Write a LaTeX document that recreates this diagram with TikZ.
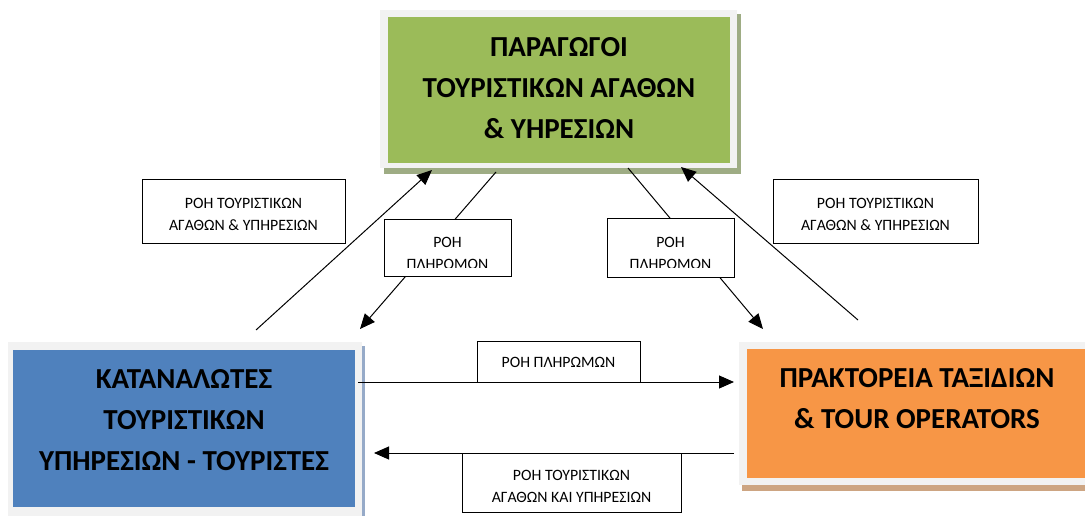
\documentclass[tikz,border=0pt]{standalone}
\usepackage{fontspec}
\setmainfont{Carlito}
\usetikzlibrary{arrows.meta}
\definecolor{grn}{RGB}{155,187,89}
\definecolor{grnsh}{RGB}{158,172,132}
\definecolor{blu}{RGB}{79,129,189}
\definecolor{blush}{RGB}{150,170,200}
\definecolor{org}{RGB}{247,150,70}
\definecolor{orgsh}{RGB}{205,165,130}
\definecolor{frm}{RGB}{242,242,242}
\tikzset{
  mainbox/.style={draw=none, inner sep=0pt, outer sep=0pt},
  maintext/.style={font=\fontsize{29}{41}\selectfont\bfseries, align=center, inner sep=0pt},
  lbl/.style={draw=black, line width=1pt, fill=white, inner sep=0pt, outer sep=0pt},
  lbltext/.style={font=\fontsize{15.8}{22}\selectfont, align=center, inner sep=0pt},
  flow/.style={line width=1pt, -{Triangle[length=15pt,width=13pt]}},
}
\begin{document}
\begin{tikzpicture}[x=1pt,y=-1pt]
\useasboundingbox (0,0) rectangle (1085,516);
\fill[white] (0,0) rectangle (1085,516);

% ---- top box (producers)
\fill[grnsh] (384,14) rectangle (741,174);
\fill[frm] (380,10) rectangle (737,168);
\node[mainbox, fill=grn, minimum width=342, minimum height=146] (prod) at (559,90) {};
\node[maintext] (prodt) at (559,88) {ΠΑΡΑΓΩΓΟΙ\\ΤΟΥΡΙΣΤΙΚΩΝ ΑΓΑΘΩΝ\\\& ΥΗΡΕΣΙΩΝ};

% ---- left box (consumers)
\fill[blush] (12,346) rectangle (365,520);
\fill[frm] (8,342) rectangle (362,520);
\node[mainbox, fill=blu, minimum width=342, minimum height=157] (cons) at (184,428.5) {};
\node[maintext] (const) at (184,420) {ΚΑΤΑΝΑΛΩΤΕΣ\\ΤΟΥΡΙΣΤΙΚΩΝ\\ΥΠΗΡΕΣΙΩΝ - ΤΟΥΡΙΣΤΕΣ};

% ---- right box (travel agencies)
\fill[orgsh] (742,346) rectangle (1090,491);
\fill[frm] (739,342) rectangle (1090,485);
\node[mainbox, fill=org, minimum width=343, minimum height=129] (agen) at (918.5,413.5) {};
\node[maintext] (agent) at (917,399) {ΠΡΑΚΤΟΡΕΙΑ ΤΑΞΙΔΙΩΝ\\\& TOUR OPERATORS};

% ---- connector end points
\coordinate (c1s) at (256,330);
\coordinate (c1e) at (432,170);
\coordinate (c2s) at (496,172);
\coordinate (c2e) at (360,329);
\coordinate (c3s) at (628,168);
\coordinate (c3e) at (763,329);
\coordinate (c4s) at (858,320);
\coordinate (c4e) at (681,167);
\coordinate (c5s) at (358,382);
\coordinate (c5e) at (734,382);
\coordinate (c6s) at (734,453);
\coordinate (c6e) at (374,453);

\draw[flow] (c1s) -- (c1e);
\draw[flow] (c2s) -- (c2e);
\draw[flow] (c3s) -- (c3e);
\draw[flow] (c4s) -- (c4e);
\draw[flow] (c5s) -- (c5e);
\draw[flow] (c6s) -- (c6e);

% ---- label boxes
\node[lbl, minimum width=203, minimum height=63] (l1) at (243.5,211.5) {};
\node[lbltext] (l1t) at (243.5,214) {ΡΟΗ ΤΟΥΡΙΣΤΙΚΩΝ\\ΑΓΑΘΩΝ \& ΥΠΗΡΕΣΙΩΝ};

\node[lbl, minimum width=205, minimum height=63] (l4) at (875.5,211.5) {};
\node[lbltext] (l4t) at (875.5,214) {ΡΟΗ ΤΟΥΡΙΣΤΙΚΩΝ\\ΑΓΑΘΩΝ \& ΥΠΗΡΕΣΙΩΝ};

\node[lbl, minimum width=127, minimum height=57] (l2) at (447.5,247.5) {};
\begin{scope}
\clip (386,221) rectangle (510,267);
\node[lbltext] (l2t) at (447.5,253) {ΡΟΗ\\ΠΛΗΡΟΜΟΝ};
\end{scope}

\node[lbl, minimum width=127, minimum height=59] (l3) at (670.5,247.5) {};
\begin{scope}
\clip (609,220) rectangle (733,267);
\node[lbltext] (l3t) at (670.5,253) {ΡΟΗ\\ΠΛΗΡΟΜΟΝ};
\end{scope}

\node[lbl, minimum width=163, minimum height=41] (l5) at (558.5,361.5) {};
\node[lbltext] (l5t) at (558.5,362) {ΡΟΗ ΠΛΗΡΩΜΩΝ};

\node[lbl, minimum width=219, minimum height=59] (l6) at (571.5,482.5) {};
\node[lbltext] (l6t) at (571.5,486) {ΡΟΗ ΤΟΥΡΙΣΤΙΚΩΝ\\ΑΓΑΘΩΝ ΚΑΙ ΥΠΗΡΕΣΙΩΝ};
\end{tikzpicture}
\end{document}
